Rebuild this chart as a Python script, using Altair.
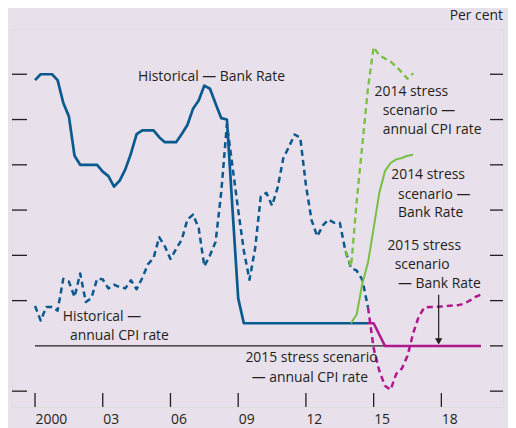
import altair as alt
import pandas as pd

BG = "#e8e0ea"
BLUE = "#0b5a8f"
GREEN = "#77c043"
MAGENTA = "#b0188e"
INK = "#231f20"
FONT = "Open Sans"
FS = 13.9

W, H = 491, 378


def quarters(start, n):
    return [start + 0.25 * i for i in range(n)]


# Historical Bank Rate (quarterly from 2000 Q1 to 2009 Q2, then flat to 2014 Q4)
bank_hist_y = [5.87, 6.0, 6.0, 6.0,
               5.87, 5.37, 5.07, 4.2,
               4.0, 4.0, 4.0, 4.0,
               3.85, 3.75, 3.52, 3.65,
               3.9, 4.25, 4.68, 4.76,
               4.76, 4.76, 4.61, 4.5,
               4.5, 4.5, 4.68, 4.88,
               5.24, 5.42, 5.75, 5.68,
               5.35, 5.03, 5.0, 3.0,
               1.05, 0.5]
bank_hist_x = quarters(2000.0, len(bank_hist_y)) + [2014.75]
bank_hist_y = bank_hist_y + [0.5]

# Historical annual CPI rate (quarterly 2000 Q1 - 2014 Q4)
cpi_hist_y = [0.88, 0.56, 0.86, 0.86,
              0.78, 1.48, 1.42, 1.08,
              1.6, 0.97, 1.06, 1.48,
              1.47, 1.27, 1.35, 1.3,
              1.27, 1.45, 1.25, 1.5,
              1.8, 1.94, 2.4, 2.2,
              1.92, 2.14, 2.35, 2.79,
              2.9, 2.6, 1.76, 2.0,
              2.3, 3.4, 4.9, 3.95,
              3.0, 2.1, 1.46, 2.15,
              3.3, 3.38, 3.1, 3.5,
              4.15, 4.4, 4.67, 4.6,
              3.55, 2.78, 2.42, 2.66,
              2.79, 2.72, 2.72, 2.1,
              1.72, 1.66, 1.46, 0.85]
cpi_hist_x = quarters(2000.0, len(cpi_hist_y))

# 2014 stress scenario
cpi14_y = [2.1, 1.75, 3.2, 4.45, 5.7, 6.6, 6.42, 6.35, 6.28, 6.17, 6.04, 5.9, 6.02]
cpi14_x = quarters(2013.75, len(cpi14_y))
bank14_y = [0.5, 0.7, 1.38, 1.84, 2.6, 3.38, 3.86, 4.04, 4.12, 4.15, 4.2, 4.22]
bank14_x = quarters(2014.0, len(bank14_y))

# 2015 stress scenario
bank15_x = [2014.75, 2015.0, 2015.5, 2019.75]
bank15_y = [0.5, 0.5, 0.0, 0.0]
cpi15_y = [0.85, -0.05, -0.55, -0.88, -0.97, -0.62, -0.5, -0.22, 0.28, 0.65, 0.85,
           0.86, 0.86, 0.87, 0.88, 0.89, 0.9, 0.93, 1.0, 1.08, 1.13]
cpi15_x = quarters(2014.75, len(cpi15_y))

# Axis ticks / labels
tick_years = [2000, 2003, 2006, 2009, 2012, 2015, 2018]
tick_labels = ["2000", "03", "06", "09", "12", "15", "18"]
y_label_values = [7, 6, 5, 4, 3, 2, 1, 0, -1]
y_labels = ["7", "6", "5", "4", "3", "2", "1", "0", "1"]
left_tick_values = [6, 5, 4, 3, 2, 1, -1]
right_tick_values = [6, 5, 4, 3, 2, 1, 0, -1]
sign_text = ["+", "–"]
sign_values = [0.47, -0.47]
zero_line_x = [2000.0, 2019.75]

# Annotations
ann_text = ["Historical — Bank Rate", "2014 stress", "scenario —", "annual CPI rate",
            "2014 stress", "scenario —", "Bank Rate",
            "2015 stress", "scenario", "— Bank Rate",
            "Historical —", "annual CPI rate",
            "2015 stress scenario", "— annual CPI rate"]
ann_x = [2004.56, 2015.04, 2015.40, 2015.40,
         2015.78, 2016.08, 2016.08,
         2015.61, 2015.93, 2016.08,
         2001.23, 2001.55,
         2009.32, 2009.60]
ann_y = [5.95, 5.60, 5.18, 4.76,
         3.78, 3.34, 2.94,
         2.21, 1.79, 1.37,
         0.64, 0.22,
         -0.27, -0.71]
arrow_x = 2017.88
arrow_top = 1.13
arrow_end = 0.15
arrow_head = 0.1

xs = alt.Scale(domain=[1998.98, 2020.73], nice=False, zero=False)
ys = alt.Scale(domain=[-1.35, 7], nice=False, zero=False)


def cond_expr(values, labels):
    expr = "''"
    for v, l in reversed(list(zip(values, labels))):
        expr = f"datum.value == {v} ? '{l}' : ({expr})"
    return expr


X_AXIS = alt.Axis(values=tick_years, labelExpr=cond_expr(tick_years, tick_labels),
                  ticks=False, domain=False, grid=False, labelAlign="left",
                  labelPadding=5, labelFontSize=FS, labelFont=FONT,
                  labelColor=INK, title=None, labelFlush=False, labelOverlap=False)
Y_AXIS = alt.Axis(orient="right", values=y_label_values,
                  labelExpr=cond_expr(y_label_values, y_labels), ticks=False,
                  domain=False, grid=False, labelPadding=8, labelFontSize=FS,
                  labelFont=FONT, labelColor=INK, title=None,
                  labelBaseline="middle", labelOverlap=False, labelFlush=False)


def X(f):
    return alt.X(f, type="quantitative", scale=xs, axis=X_AXIS)


def Y(f):
    return alt.Y(f, type="quantitative", scale=ys, axis=Y_AXIS)


def line(xv, yv, color, width, dash=None):
    df = pd.DataFrame({"x": xv, "y": yv, "o": range(len(xv))})
    kw = dict(color=color, strokeWidth=width, clip=True, strokeJoin="round")
    if dash:
        kw["strokeDash"] = dash
    return alt.Chart(df).mark_line(**kw).encode(x=X("x"), y=Y("y"), order="o:Q")


zero_df = pd.DataFrame({"x": [zero_line_x[0]], "x2": [zero_line_x[1]], "y": [0]})
zero = alt.Chart(zero_df).mark_rule(color=INK, strokeWidth=1.3).encode(
    x=X("x"), x2="x2", y=Y("y"))

dash = [6, 4]
l_cpi_hist = line(cpi_hist_x, cpi_hist_y, BLUE, 2.5, dash)
l_bank_hist = line(bank_hist_x, bank_hist_y, BLUE, 2.7)
l_cpi14 = line(cpi14_x, cpi14_y, GREEN, 2.3, dash)
l_bank14 = line(bank14_x, bank14_y, GREEN, 2.0)
l_bank15 = line(bank15_x, bank15_y, MAGENTA, 2.5)
l_cpi15 = line(cpi15_x, cpi15_y, MAGENTA, 2.5, dash)

bt = alt.Chart(pd.DataFrame({"x": tick_years})).mark_rule(color=INK, strokeWidth=1.3).encode(
    x=X("x"), y=alt.value(H), y2=alt.value(H - 14))

rt = alt.Chart(pd.DataFrame({"y": right_tick_values})).mark_rule(color=INK, strokeWidth=1.3).encode(
    y=Y("y"), x=alt.value(W - 13), x2=alt.value(W))

lt = alt.Chart(pd.DataFrame({"y": left_tick_values})).mark_rule(color=INK, strokeWidth=1.3).encode(
    y=Y("y"), x=alt.value(0), x2=alt.value(15))

signs = alt.Chart(pd.DataFrame({"t": sign_text, "y": sign_values})).mark_text(
    align="left", baseline="middle", font=FONT, fontSize=FS, color=INK).encode(
    y=Y("y"), x=alt.value(W + 8), text="t:N")

ann = alt.Chart(pd.DataFrame({"t": ann_text, "x": ann_x, "y": ann_y})).mark_text(
    align="left", baseline="middle", font=FONT, fontSize=FS, color=INK).encode(
    x=X("x"), y=Y("y"), text="t:N")

arrow_df = pd.DataFrame({"x": [arrow_x], "y": [arrow_top], "y2": [arrow_end], "h": [arrow_head]})
arrow_line = alt.Chart(arrow_df).mark_rule(color=INK, strokeWidth=1.2).encode(
    x=X("x"), y=Y("y"), y2="y2")
arrow_tip = alt.Chart(arrow_df).mark_point(shape="triangle-down", filled=True, size=55,
                                           color=INK, opacity=1).encode(x=X("x"), y=Y("h"))

per_cent = alt.Chart(pd.DataFrame({"t": ["Per cent"]})).mark_text(
    align="right", baseline="middle", font=FONT, fontSize=FS, color=INK).encode(
    x=alt.value(W), y=alt.value(-13), text="t:N")

chart = alt.layer(
    bt, rt, lt, zero,
    l_cpi_hist, l_bank_hist, l_cpi14, l_bank14, l_bank15, l_cpi15,
    arrow_line, arrow_tip, ann, signs, per_cent,
).properties(
    width=W, height=H,
    background=BG,
    padding={"left": 4, "top": 21, "right": 5, "bottom": 25},
    autosize=alt.AutoSizeParams(type="none"),
).configure_view(
    stroke=INK, strokeWidth=1.5, fill=BG
).configure(font=FONT)

chart.save("out.html", embed_options={"renderer": "svg", "actions": False})
